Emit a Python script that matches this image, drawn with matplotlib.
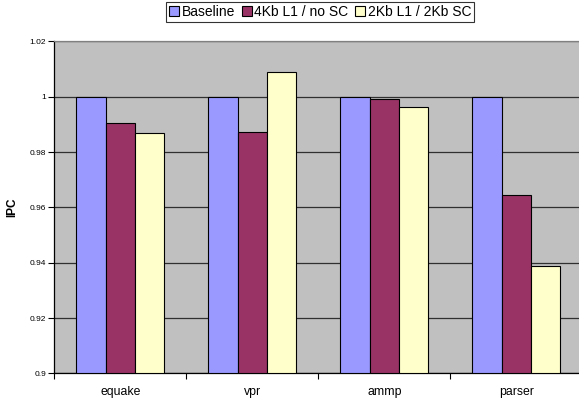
import matplotlib
matplotlib.use("Agg")
import matplotlib.pyplot as plt
import numpy as np

plt.rcParams['font.family'] = ['Liberation Sans', 'DejaVu Sans']

categories = ["equake", "vpr", "ammp", "parser"]
series_names = ["Baseline", "4Kb L1 / no SC", "2Kb L1 / 2Kb SC"]
baseline = [1.0, 1.0, 1.0, 1.0]
l1_4kb_no_sc = [0.9905, 0.9873, 0.9991, 0.9646]
l1_2kb_sc_2kb = [0.9869, 1.0091, 0.9962, 0.9388]
yticks = [0.9, 0.92, 0.94, 0.96, 0.98, 1.0, 1.02]
ytick_labels = ["0.9", "0.92", "0.94", "0.96", "0.98", "1", "1.02"]

colors = ["#9999FF", "#993366", "#FFFFCC"]

fig = plt.figure(figsize=(5.79, 4.01), dpi=100)
ax = fig.add_axes([0.0938, 0.0686, 0.9119, 0.828])
ax.set_facecolor("#C0C0C0")

x = np.arange(len(categories))
w = 0.222
for i, (vals, name) in enumerate(zip([baseline, l1_4kb_no_sc, l1_2kb_sc_2kb], series_names)):
    ax.bar(x + (i - 1) * w, np.array(vals) - 0.9, width=w, bottom=0.9,
           color=colors[i], edgecolor="black", linewidth=0.8, label=name, zorder=3)

ax.set_ylim(0.9, 1.02)
ax.set_xlim(-0.5, len(categories) - 0.5)
ax.set_yticks(yticks)
ax.set_yticklabels(ytick_labels, fontsize=6)
ax.yaxis.grid(True, color="#303030", linewidth=0.9, zorder=1)
ax.set_axisbelow(True)

ax.set_xticks(np.arange(len(categories) + 1) - 0.5, minor=False)
ax.set_xticklabels([])
ax.set_xticks(x, minor=True)
ax.set_xticklabels(categories, minor=True, fontsize=8.8)
ax.tick_params(axis='x', which='minor', length=0, pad=9)
ax.tick_params(axis='x', which='major', length=4, width=0.8, direction='out')
ax.tick_params(axis='y', length=4, width=0.8, direction='out', pad=2)

ax.spines["right"].set_visible(False)
ax.spines["top"].set_color("#808080")
ax.spines["top"].set_linewidth(0.9)
ax.spines["left"].set_linewidth(0.9)
ax.spines["bottom"].set_linewidth(0.9)

ax.set_ylabel("IPC", fontsize=8.5, fontweight="bold", labelpad=8)

leg = fig.legend(loc="upper center", bbox_to_anchor=(0.553, 0.995), ncol=3,
                 fontsize=10, frameon=True, fancybox=False, edgecolor="black",
                 handlelength=0.7, handleheight=0.7, handletextpad=0.2,
                 columnspacing=0.5, borderpad=0.22, borderaxespad=0)
leg.get_frame().set_linewidth(0.8)

fig.savefig("out.png", dpi=100)
